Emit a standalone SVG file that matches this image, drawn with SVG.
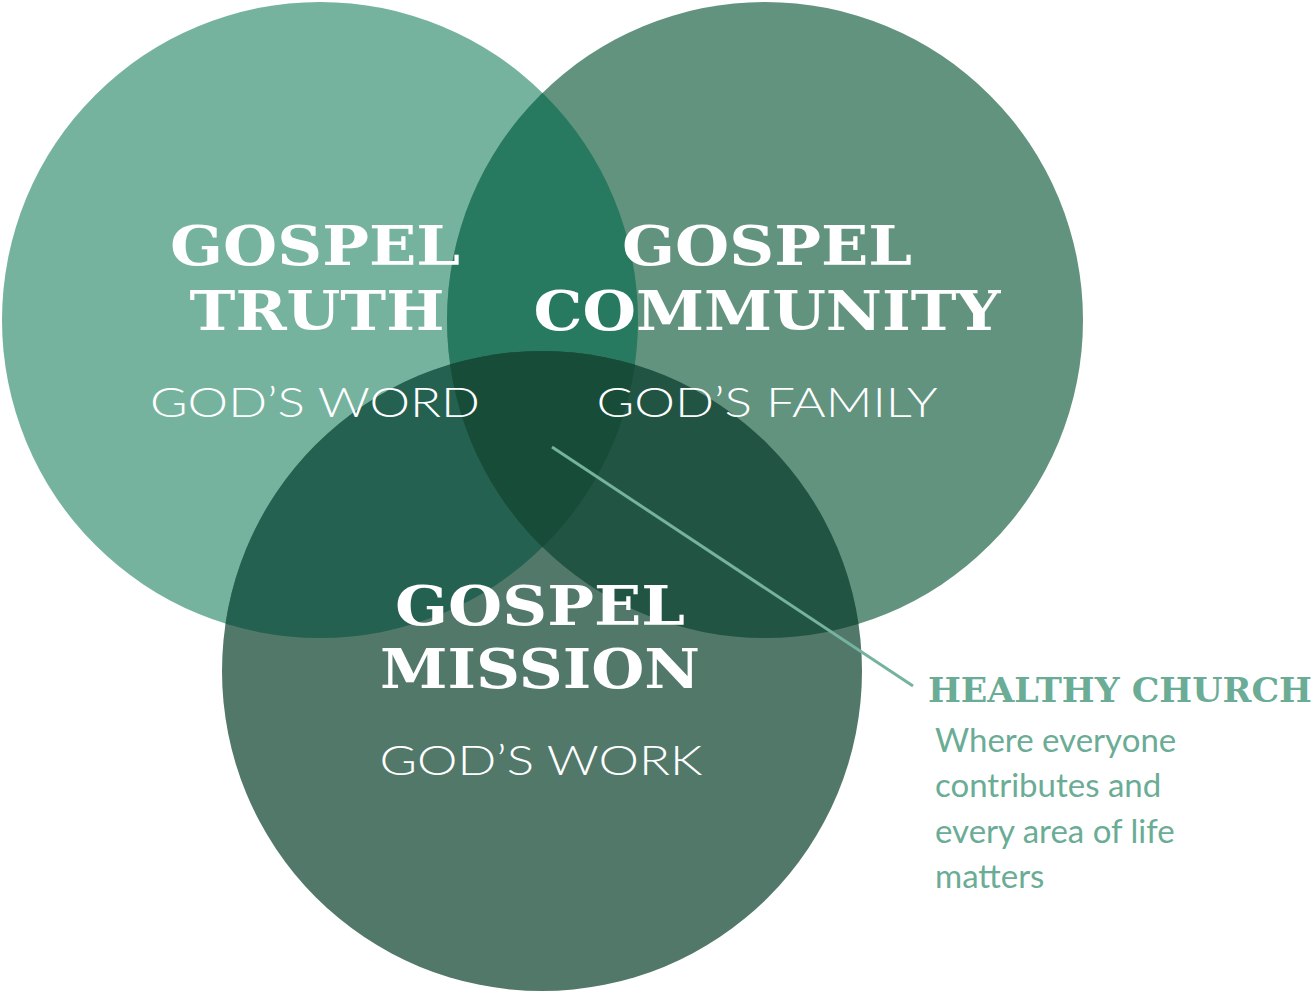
<svg xmlns="http://www.w3.org/2000/svg" width="1314" height="991" viewBox="0 0 1314 991">
<style>
.h{font-family:"DejaVu Serif",serif;font-weight:bold;font-size:54px;fill:#fff;text-anchor:middle}
.s{font-family:Lato,"Liberation Sans",sans-serif;font-weight:300;font-size:42px;fill:#fff;text-anchor:middle}
.b{font-family:Lato,"Liberation Sans",sans-serif;font-size:33px;fill:#6aac95}
</style>
<defs>
<clipPath id="cL"><circle cx="320" cy="320" r="318"/></clipPath>
<clipPath id="cR"><circle cx="765" cy="320" r="318"/></clipPath>
<clipPath id="cB"><circle cx="542" cy="671" r="320"/></clipPath>
</defs>
<rect width="1314" height="991" fill="#fff"/>
<g id="truth-circle"><circle cx="320" cy="320" r="318" fill="#76b39e"/></g>
<g id="community-circle"><circle cx="765" cy="320" r="318" fill="#62937f"/></g>
<g id="mission-circle"><circle cx="542" cy="671" r="320" fill="#52786a"/></g>
<g id="overlaps">
<g clip-path="url(#cL)"><circle cx="765" cy="320" r="318" fill="#277a60"/><circle cx="542" cy="671" r="320" fill="#256150"/></g>
<g clip-path="url(#cR)"><circle cx="542" cy="671" r="320" fill="#225443"/></g>
<g clip-path="url(#cL)"><g clip-path="url(#cR)"><circle cx="542" cy="671" r="320" fill="#174d38"/></g></g>
</g>
<g id="labels">
<text class="h" x="315" y="265" textLength="290" lengthAdjust="spacingAndGlyphs">GOSPEL</text>
<text class="h" x="317" y="330" textLength="255" lengthAdjust="spacingAndGlyphs">TRUTH</text>
<text class="s" x="315" y="417" textLength="330" lengthAdjust="spacingAndGlyphs">GOD’S WORD</text>
<text class="h" x="767" y="265" textLength="290" lengthAdjust="spacingAndGlyphs">GOSPEL</text>
<text class="h" x="767" y="330" textLength="467" lengthAdjust="spacingAndGlyphs">COMMUNITY</text>
<text class="s" x="767" y="417" textLength="341" lengthAdjust="spacingAndGlyphs">GOD’S FAMILY</text>
<text class="h" x="540" y="625" textLength="290" lengthAdjust="spacingAndGlyphs">GOSPEL</text>
<text class="h" x="540" y="688" textLength="320" lengthAdjust="spacingAndGlyphs">MISSION</text>
<text class="s" x="541" y="775" textLength="323" lengthAdjust="spacingAndGlyphs">GOD’S WORK</text>
</g>
<g id="connectors"><line x1="552" y1="447" x2="913" y2="686" stroke="#76b39e" stroke-width="3"/></g>
<g id="healthy-church">
<text x="928" y="702" font-family="DejaVu Serif,serif" font-weight="bold" font-size="34" fill="#6aac95" textLength="384" lengthAdjust="spacingAndGlyphs">HEALTHY CHURCH</text>
<text class="b" x="935" y="752">Where everyone</text>
<text class="b" x="935" y="797">contributes and</text>
<text class="b" x="935" y="843">every area of life</text>
<text class="b" x="935" y="888">matters</text>
</g>
</svg>
